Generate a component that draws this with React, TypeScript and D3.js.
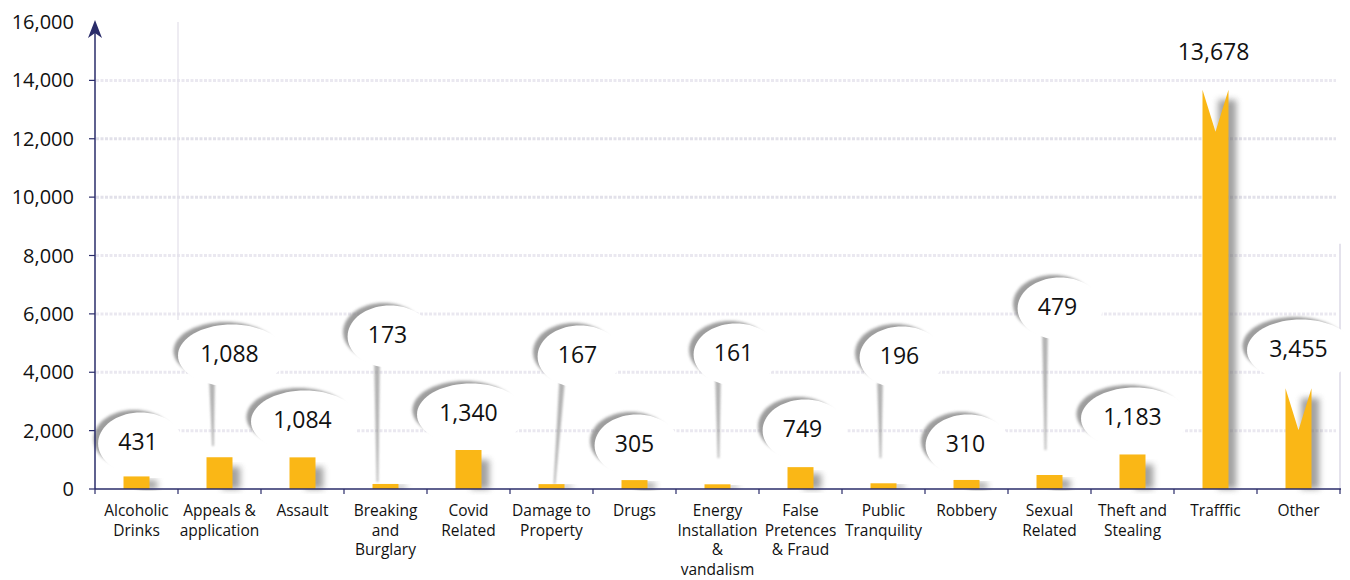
import React from "react";
import * as d3 from "d3";

const categories: string[] = [
  "Alcoholic\nDrinks",
  "Appeals &\napplication",
  "Assault",
  "Breaking\nand\nBurglary",
  "Covid\nRelated",
  "Damage to\nProperty",
  "Drugs",
  "Energy\nInstallation\n&\nvandalism",
  "False\nPretences\n& Fraud",
  "Public\nTranquility",
  "Robbery",
  "Sexual\nRelated",
  "Theft and\nStealing",
  "Trafffic",
  "Other",
];
const values: number[] = [431, 1088, 1084, 173, 1340, 167, 305, 161, 749, 196, 310, 479, 1183, 13678, 3455];
const yTickValues: number[] = [0, 2000, 4000, 6000, 8000, 10000, 12000, 14000, 16000];
const gridValues: number[] = [2000, 4000, 6000, 8000, 10000, 12000, 14000];

// layout/styling (not data)
const labelDx: number[] = [1.5, 10, 0, 2, 0, 26, 0, 16, 2, 16, -1, 8, 0, -2, 0];
const labelBaseline: number[] = [450, 362, 428, 343, 421, 363, 452, 361, 437, 364, 452, 315, 425, 60, 357];
const hasBubble: boolean[] = [true, true, true, true, true, true, true, true, true, true, true, true, true, false, true];
// stems: [dxTop, yTop, dxBottom, yBottom] or null
const stems: (number[] | null)[] = [
  null, [-7.5, 382, -6.5, 446], null, [-8.5, 363, -8, 482], null, [10.5, 382, 3, 484], null,
  [0.5, 378, 1, 458], null, [-3.5, 383, -3, 458], null, [-4.5, 335, -4, 450], null, null, null,
];
const notched: boolean[] = [false, false, false, false, false, false, false, false, false, false, false, false, false, true, true];

const W = 1350;
const H = 580;
const AX = "#2a2c6a";
const BAR = "#FAB716";
const FONT = "'Open Sans', 'Noto Sans', sans-serif";

export default function App() {
  const x = d3.scaleBand<string>().domain(categories).range([95, 1340]).paddingInner(0).paddingOuter(0);
  const y = d3.scaleLinear().domain([0, 16000]).range([489, 22]);
  const bw = 26;
  const base = y(0);

  const ellipsePts = (cx: number, cy: number, rx: number, ry: number) => {
    const pts: [number, number][] = [];
    for (let i = 0; i <= 72; i++) {
      const t = (i / 72) * Math.PI * 2;
      pts.push([cx + rx * Math.cos(t), cy + ry * Math.sin(t)]);
    }
    return d3.line()(pts) + "Z";
  };

  return (
    <svg width={W} height={H} style={{ position: "absolute", left: 0, top: 0, background: "#fff" }}>
      <defs>
        <filter id="blur2" x="-50%" y="-50%" width="200%" height="200%">
          <feGaussianBlur stdDeviation="1.6" />
        </filter>
        <filter id="blur4" x="-50%" y="-20%" width="200%" height="140%">
          <feGaussianBlur stdDeviation="3" />
        </filter>
        <filter id="blur1" x="-50%" y="-50%" width="200%" height="200%">
          <feGaussianBlur stdDeviation="1.2" />
        </filter>
      </defs>

      {/* faint gridlines */}
      <g>
        {gridValues.map((v) => (
          <line key={v} x1={96} x2={1336} y1={y(v)} y2={y(v)} stroke="#d9d7e4" strokeWidth={3}
            strokeDasharray="3 1.5" opacity={v >= 10000 && v <= 12000 ? 0.75 : 0.55} />
        ))}
        <line x1={178} x2={178} y1={22} y2={320} stroke="#e3e1ea" strokeWidth={2} opacity={0.6} />
        <line x1={1340} x2={1340} y1={y(8400)} y2={base} stroke="#d9d7e4" strokeWidth={2} opacity={0.7} />
      </g>

      {/* stems */}
      <g>
        {stems.map((s, i) => {
          if (!s) return null;
          const cx = (x(categories[i]) as number) + x.bandwidth() / 2;
          const xt = cx + s[0], xb = cx + s[2];
          const pts: [number, number][] = [[xt - 2.8, s[1]], [xt + 2.8, s[1]], [xb + 0.8, s[3]], [xb - 0.8, s[3]]];
          return <path key={i} d={d3.line()(pts) + "Z"} fill="#9a9a9a" opacity={0.75} filter="url(#blur1)" />;
        })}
      </g>

      {/* bubbles */}
      <g>
        {values.map((v, i) => {
          if (!hasBubble[i]) return null;
          const cx0 = (x(categories[i]) as number) + x.bandwidth() / 2 + labelDx[i];
          const txt = d3.format(",")(v);
          const tw = txt.length * 11.6;
          const rx = tw / 2 + 24;
          const ry = 30;
          const cx = cx0 - 4;
          const cy = labelBaseline[i] - 11;
          return (
            <g key={i}>
              <path d={ellipsePts(cx, cy, rx - 1, ry - 1)} fill="#858585" opacity={0.8} filter="url(#blur2)" />
              <path d={ellipsePts(cx + 6.5, cy + 4.5, rx + 1, ry + 1)} fill="#fff" />
            </g>
          );
        })}
      </g>

      {/* bar shadows */}
      <g>
        {values.map((v, i) => {
          const bx = (x(categories[i]) as number) + (x.bandwidth() - bw) / 2;
          const top = y(v);
          const h = base - top;
          const off = Math.min(10, h * 0.3);
          return (
            <rect key={i} x={bx + bw * 0.6} y={top + off} width={bw * 0.7} height={Math.max(0, h - off)}
              fill="#707070" opacity={0.65} filter="url(#blur4)" />
          );
        })}
      </g>

      {/* bars */}
      <g>
        {values.map((v, i) => {
          const bx = (x(categories[i]) as number) + (x.bandwidth() - bw) / 2;
          const top = y(v);
          let d: string;
          if (notched[i]) {
            const depth = 42;
            d = `M${bx},${base}L${bx},${top}L${bx + bw / 2},${top + depth}L${bx + bw},${top}L${bx + bw},${base}Z`;
          } else {
            d = `M${bx},${base}L${bx},${top}L${bx + bw},${top}L${bx + bw},${base}Z`;
          }
          return <path key={i} d={d} fill={BAR} />;
        })}
      </g>

      {/* value labels */}
      <g fontFamily={FONT} fontSize={23} fontWeight={500} fill="#111" textAnchor="middle">
        {values.map((v, i) => (
          <text key={i} x={(x(categories[i]) as number) + x.bandwidth() / 2 + labelDx[i]} y={labelBaseline[i]}>
            {d3.format(",")(v)}
          </text>
        ))}
      </g>

      {/* y axis */}
      <g>
        <line x1={95} x2={95} y1={base} y2={30} stroke={AX} strokeWidth={1.5} />
        <path d="M95,20L102,38L95,33L88,38Z" fill={AX} />
        {yTickValues.map((t) => (
          <g key={t}>
            {t < 16000 && <line x1={89} x2={95} y1={y(t)} y2={y(t)} stroke={AX} strokeWidth={1.2} />}
            <text x={74} y={y(t)} dy="0.35em" textAnchor="end" fontFamily={FONT} fontSize={20} fontWeight={500} fill="#111">
              {d3.format(",")(t)}
            </text>
          </g>
        ))}
      </g>

      {/* x axis */}
      <g>
        <line x1={95} x2={1341} y1={base} y2={base} stroke={AX} strokeWidth={1.5} />
        {categories.map((c, i) => (
          <line key={i} x1={(x(c) as number)} x2={(x(c) as number)} y1={base} y2={base + 5} stroke={AX} strokeWidth={1.2} />
        ))}
        <line x1={1340} x2={1340} y1={base} y2={base + 5} stroke={AX} strokeWidth={1.2} />
        {categories.map((c, i) => {
          const cx = (x(c) as number) + x.bandwidth() / 2;
          return (
            <text key={i} x={cx} y={516} textAnchor="middle" fontFamily={FONT} fontSize={15.5} fontWeight={500} fill="#111">
              {c.split("\n").map((ln, j) => (
                <tspan key={j} x={cx} dy={j === 0 ? 0 : 19.5}>{ln}</tspan>
              ))}
            </text>
          );
        })}
      </g>
    </svg>
  );
}
